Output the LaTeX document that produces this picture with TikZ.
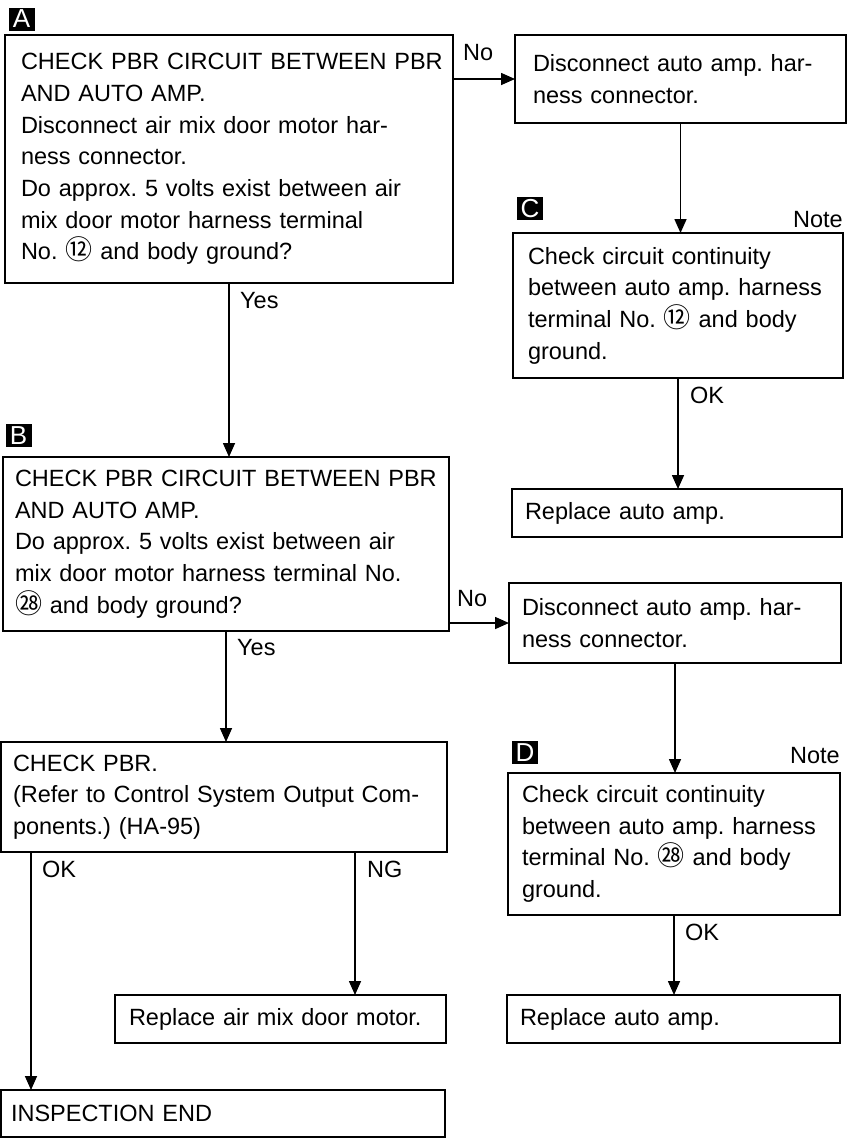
\documentclass[tikz,border=0pt]{standalone}
\usepackage{fontspec}
\setmainfont{Liberation Sans}
\newfontfamily\cjk[Scale=1.15]{Noto Sans CJK SC}
\usetikzlibrary{arrows.meta,calc}
\newcommand\cn[1]{{\cjk #1}}
\frenchspacing
\begin{document}
\begin{tikzpicture}[x=1pt,y=1pt,
  font=\fontsize{23.5}{31.7}\selectfont\frenchspacing,
  box/.style={draw, line width=1.8pt, anchor=north west, align=left, inner ysep=0pt, outer sep=0pt},
  arr/.style={line width=1.6pt, -{Triangle[width=12pt,length=14pt]}},
  tag/.style={fill=black, text=white, minimum width=26pt, minimum height=23pt, inner sep=0pt, font=\fontsize{26}{26}\selectfont},
  lbl/.style={anchor=base west, inner sep=0pt},
  lblr/.style={anchor=base east, inner sep=0pt}]
\useasboundingbox (0,0) rectangle (850,-1138);

% boxes
\node[box, inner xsep=16pt, text width=416pt, minimum height=248pt] (A) at (5,-35)
 {\mbox{CHECK PBR CIRCUIT BETWEEN PBR}\\AND AUTO AMP.\\Disconnect air mix door motor har-\\ness connector.\\Do approx. 5 volts exist between air\\mix door motor harness terminal\\No. \cn{⑫} and body ground?};
\node[box, inner xsep=18pt, text width=295pt, minimum height=88pt] (R1) at (515,-35)
 {Disconnect auto amp. har-\\ness connector.};
\node[box, inner xsep=15pt, text width=300pt, minimum height=145pt] (C) at (513,-233)
 {Check circuit continuity\\between auto amp. harness\\terminal No. \cn{⑫} and body\\ground.};
\node[box, inner xsep=13pt, text width=304pt, minimum height=48pt] (R3) at (512,-489)
 {Replace auto amp.};
\node[box, inner xsep=12pt, text width=422pt, minimum height=174pt] (B) at (3,-457)
 {\mbox{CHECK PBR CIRCUIT BETWEEN PBR}\\AND AUTO AMP.\\Do approx. 5 volts exist between air\\mix door motor harness terminal No.\\\cn{㉘} and body ground?};
\node[box, inner xsep=13pt, text width=306pt, minimum height=80pt] (R2) at (509,-583)
 {Disconnect auto amp. har-\\ness connector.};
\node[box, inner xsep=14pt, text width=304pt, minimum height=142pt] (D) at (508,-773)
 {Check circuit continuity\\between auto amp. harness\\terminal No. \cn{㉘} and body\\ground.};
\node[box, inner xsep=13pt, text width=307pt, minimum height=48pt] (R4) at (507,-995)
 {Replace auto amp.};
\node[box, inner xsep=12pt, text width=422pt, minimum height=110pt] (P) at (1,-742)
 {CHECK PBR.\\(Refer to Control System Output Com-\\ponents.) (HA-95)};
\node[box, inner xsep=14pt, text width=303pt, minimum height=48pt] (M) at (115,-995)
 {Replace air mix door motor.};
\node[box, inner xsep=10pt, text width=424pt, minimum height=47pt] (E) at (1,-1090)
 {INSPECTION END};

% letter tags
\node[tag] (tA) at (21.5,-19) {A};
\node[tag] (tB) at (18.5,-435.5) {B};
\node[tag] (tC) at (530,-208.5) {C};
\node[tag] (tD) at (525,-752.5) {D};

% connectors
\draw[arr] (A.east |- R1.west) -- (R1.west);
\draw[arr] (R1.south) -- (R1.south |- C.north);
\draw[arr] (C.south) -- (C.south |- R3.north);
\draw[arr] (A.south) -- (A.south |- B.north);
\draw[arr] (B.east |- R2.west) -- (R2.west);
\draw[arr] (R2.south) -- (R2.south |- D.north);
\draw[arr] (D.south) -- (D.south |- R4.north);
\draw[arr] (B.south) -- (B.south |- P.north);
\coordinate (okx) at ($(P.south west)+(30,0)$);
\coordinate (ngx) at ($(P.south west)+(354,0)$);
\draw[arr] (okx) -- (okx |- E.north);
\draw[arr] (ngx) -- (ngx |- M.north);

% labels
\node[lbl] (l1) at (463,-60) {No};
\node[lbl] (l2) at (240,-308) {Yes};
\node[lblr] (l3) at (843,-227) {Note};
\node[lbl] (l4) at (690,-403) {OK};
\node[lbl] (l5) at (457,-606) {No};
\node[lbl] (l6) at (237,-655) {Yes};
\node[lblr] (l7) at (840,-763) {Note};
\node[lbl] (l8) at (685,-940) {OK};
\node[lbl] (l9) at (42,-877) {OK};
\node[lbl] (l10) at (367,-877) {NG};
\end{tikzpicture}
\end{document}
